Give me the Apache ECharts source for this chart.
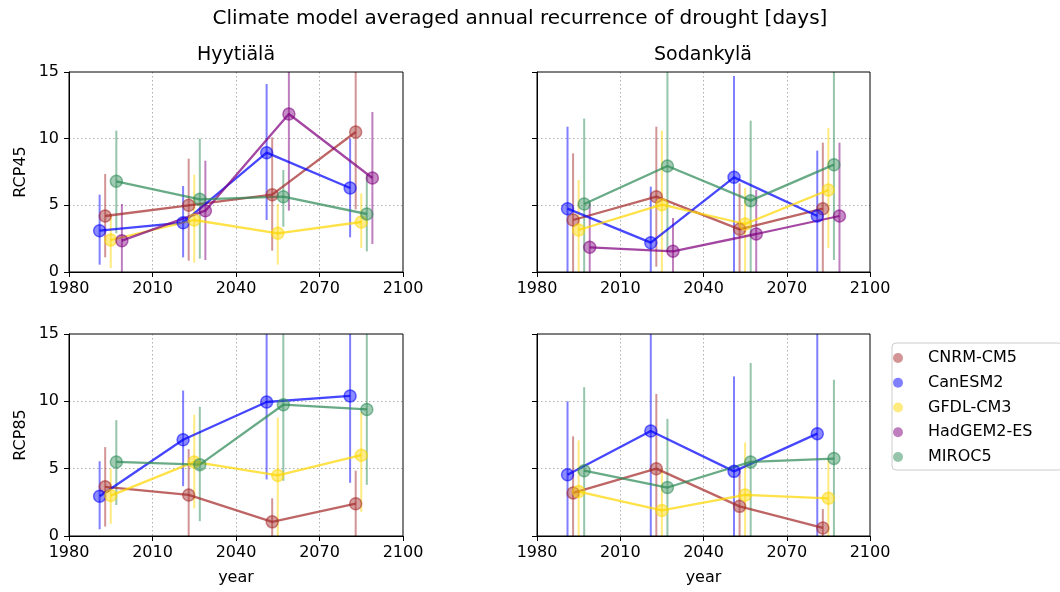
<!DOCTYPE html>
<html>
<head>
<meta charset="utf-8">
<script src="https://cdn.jsdelivr.net/npm/echarts@6/dist/echarts.min.js"></script>
<style>html,body{margin:0;padding:0;background:#fff}#c{width:1060px;height:592px}</style>
</head>
<body>
<div id="c"></div>
<script>
// ---- data ----
const models = ['CNRM-CM5', 'CanESM2', 'GFDL-CM3', 'HadGEM2-ES', 'MIROC5'];
const periodCenters = [1995, 2025, 2055, 2085];
const modelYearOffset = [-2, -4, 0, 4, 2];
const xTicks = [1980, 2010, 2040, 2070, 2100];
const yTicks = [0, 5, 10, 15];

// rows follow `models`; null = model not available
const hyy45Mean = [[4.2, 5.0, 5.8, 10.5], [3.1, 3.7, 8.95, 6.3], [2.4, 3.9, 2.9, 3.75], [2.35, 4.6, 11.85, 7.05], [6.8, 5.45, 5.65, 4.35]];
const hyy45Lo   = [[1.1, 0.85, 1.6, 4.7], [0.55, 1.1, 3.9, 2.6], [0.3, 0.7, 0.55, 1.8], [-0.3, 0.9, 4.6, 2.1], [2.9, 1.0, 3.4, 1.55]];
const hyy45Hi   = [[7.35, 8.5, 10.1, 16], [5.8, 6.45, 14.1, 10.0], [4.35, 7.3, 5.1, 5.9], [5.1, 8.35, 16, 12.0], [10.6, 10.0, 7.65, 7.3]];

const sod45Mean = [[3.9, 5.65, 3.2, 4.75], [4.75, 2.2, 7.1, 4.2], [3.15, 5.05, 3.6, 6.15], [1.85, 1.55, 2.85, 4.2], [5.1, 7.95, 5.35, 8.05]];
const sod45Lo   = [[-0.5, 0.4, -0.5, -0.5], [-0.5, -0.5, -0.5, -0.5], [-0.5, -0.5, -0.5, 1.8], [-0.5, -0.5, -0.5, -0.5], [-0.5, 1.5, -0.5, 0.9]];
const sod45Hi   = [[8.9, 10.9, 6.65, 9.7], [10.9, 6.4, 14.7, 9.1], [6.9, 10.6, 6.3, 10.8], [5.2, 4.05, 6.15, 9.7], [11.5, 16, 11.35, 16]];

const hyy85Mean = [[3.65, 3.05, 1.05, 2.4], [2.95, 7.15, 9.95, 10.4], [3.0, 5.5, 4.5, 6.0], null, [5.5, 5.3, 9.75, 9.4]];
const hyy85Lo   = [[0.7, -0.5, -0.5, -0.5], [0.5, 3.7, 4.2, 3.95], [0.9, 2.05, -0.5, 1.8], null, [2.3, 1.1, 4.1, 3.8]];
const hyy85Hi   = [[6.6, 6.45, 2.8, 4.85], [5.55, 10.8, 16, 16], [5.0, 9.0, 8.8, 9.2], null, [8.6, 9.6, 16, 16]];

const sod85Mean = [[3.2, 5.0, 2.2, 0.6], [4.55, 7.8, 4.8, 7.6], [3.3, 1.9, 3.05, 2.8], null, [4.85, 3.6, 5.5, 5.75]];
const sod85Lo   = [[-0.5, -0.5, -0.5, -0.5], [-0.5, -0.5, -0.5, -0.5], [-0.5, -0.5, -0.5, -0.5], null, [-0.5, -0.5, -0.5, -0.5]];
const sod85Hi   = [[7.4, 10.55, 5.0, 2.0], [10.0, 16, 11.85, 16], [7.1, 5.0, 6.95, 5.65], null, [11.05, 8.7, 12.85, 11.6]];

const rowLabels = ['RCP45', 'RCP85'];
const colLabels = ['Hyytiälä', 'Sodankylä'];
const mainTitle = 'Climate model averaged annual recurrence of drought [days]';

// ---- styling ----
const colors = [[165, 42, 42], [0, 0, 255], [255, 215, 0], [128, 0, 128], [46, 139, 87]];
const rgba = (c, a) => `rgba(${c[0]},${c[1]},${c[2]},${a})`;
const FONT = 'DejaVu Sans';

const panels = [
  { mean: hyy45Mean, lo: hyy45Lo, hi: hyy45Hi },
  { mean: sod45Mean, lo: sod45Lo, hi: sod45Hi },
  { mean: hyy85Mean, lo: hyy85Lo, hi: hyy85Hi },
  { mean: sod85Mean, lo: sod85Lo, hi: sod85Hi }
];

const grids = [
  { left: 69, top: 72, width: 334, height: 200 },
  { left: 537, top: 72, width: 333, height: 200 },
  { left: 69, top: 334, width: 334, height: 202 },
  { left: 537, top: 334, width: 333, height: 202 }
].map(g => Object.assign(g, { show: true, borderColor: '#000', borderWidth: 1, containLabel: false, z: 5 }));

const splitStyle = { show: true, showMinLine: false, showMaxLine: false, lineStyle: { type: [1.5, 2.5], color: '#b0b0b0', width: 1 } };

const xAxes = grids.map((g, i) => ({
  type: 'value', gridIndex: i, min: xTicks[0], max: xTicks[xTicks.length - 1], interval: 30,
  name: i >= 2 ? 'year' : '', nameLocation: 'middle', nameGap: 34,
  nameTextStyle: { fontFamily: FONT, fontSize: 16, color: '#000' },
  axisLine: { show: true, onZero: false, lineStyle: { color: '#000', width: 1 } },
  axisTick: { show: true, length: 5, lineStyle: { color: '#000' } },
  axisLabel: { fontFamily: FONT, fontSize: 16, color: '#000', margin: 9, formatter: v => String(v) },
  splitLine: splitStyle
}));

const yAxes = grids.map((g, i) => ({
  type: 'value', gridIndex: i, min: yTicks[0], max: yTicks[yTicks.length - 1], interval: 5,
  name: i % 2 === 0 ? rowLabels[i >> 1] : '', nameLocation: 'middle', nameGap: 40,
  nameTextStyle: { fontFamily: FONT, fontSize: 16, color: '#000' },
  axisLine: { show: true, onZero: false, lineStyle: { color: '#000', width: 1 } },
  axisTick: { show: true, length: 5, lineStyle: { color: '#000' } },
  axisLabel: { show: i % 2 === 0, fontFamily: FONT, fontSize: 16, color: '#000', margin: 10, formatter: v => String(v) },
  splitLine: splitStyle
}));

const series = [];
panels.forEach((p, gi) => {
  models.forEach((m, mi) => {
    if (!p.mean[mi]) return;
    const c = colors[mi];
    const xs = periodCenters.map(y => y + modelYearOffset[mi]);
    const bars = xs.map((x, k) => [x, p.lo[mi][k], p.hi[mi][k]]);
    series.push({
      type: 'custom', name: m, xAxisIndex: gi, yAxisIndex: gi, clip: true, silent: true,
      data: bars,
      encode: { x: 0, y: [1, 2] },
      renderItem: (params, api) => {
        const a = api.coord([api.value(0), api.value(1)]);
        const b = api.coord([api.value(0), api.value(2)]);
        return { type: 'line', shape: { x1: a[0], y1: a[1], x2: b[0], y2: b[1] },
                 style: { stroke: rgba(c, 0.5), lineWidth: 2 } };
      }
    });
    series.push({
      type: 'line', name: m, xAxisIndex: gi, yAxisIndex: gi, silent: true,
      data: xs.map((x, k) => [x, p.mean[mi][k]]),
      symbol: 'circle', symbolSize: 12, showSymbol: true,
      lineStyle: { color: rgba(c, 0.72), width: 2.3 },
      itemStyle: { color: rgba(c, 0.45), borderColor: rgba(c, 0.55), borderWidth: 1.5 },
      emphasis: { disabled: true }
    });
  });
});

const graphic = [
  { type: 'text', x: 520, y: 19, style: { text: mainTitle, font: `20px "${FONT}"`, fill: '#000', textAlign: 'center', textVerticalAlign: 'middle' } },
  { type: 'text', x: 236, y: 55, style: { text: colLabels[0], font: `19px "${FONT}"`, fill: '#000', textAlign: 'center', textVerticalAlign: 'middle' } },
  { type: 'text', x: 703, y: 55, style: { text: colLabels[1], font: `19px "${FONT}"`, fill: '#000', textAlign: 'center', textVerticalAlign: 'middle' } }
];

const chart = echarts.init(document.getElementById('c'), null, { renderer: 'canvas' });
chart.setOption({
  animation: false,
  backgroundColor: '#fff',
  grid: grids, xAxis: xAxes, yAxis: yAxes, series, graphic,
  legend: {
    orient: 'vertical', left: 892, top: 343,
    data: models.map((m, mi) => ({ name: m, icon: 'circle', itemStyle: { color: rgba(colors[mi], 0.5), borderWidth: 0 } })),
    itemWidth: 50, itemHeight: 10, itemGap: 8.75, symbolKeepAspect: true,
    padding: [7, 30, 5, 1],
    borderColor: '#cccccc', borderWidth: 1, borderRadius: 4, backgroundColor: '#fff',
    textStyle: { fontFamily: FONT, fontSize: 16, color: '#000', lineHeight: 16 },
    selectedMode: false
  }
});
</script>
</body>
</html>
